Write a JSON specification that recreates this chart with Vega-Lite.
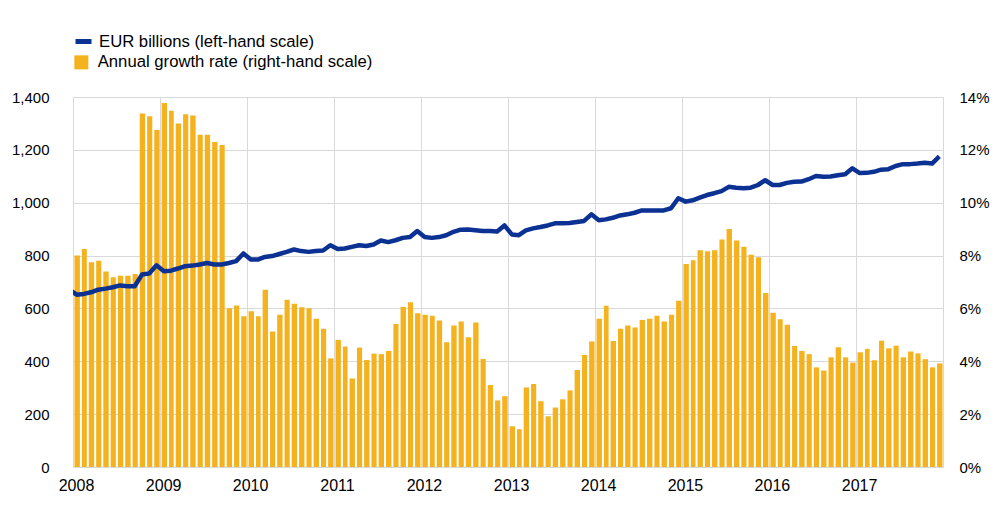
{
  "$schema": "https://vega.github.io/schema/vega-lite/v6.json",
  "width": 870,
  "height": 370,
  "autosize": {"type": "none"},
  "padding": {"left": 73, "top": 97, "right": 64, "bottom": 38},
  "background": "white",
  "config": {
    "view": {"stroke": null},
    "font": "Liberation Sans",
    "axis": {"labelFont": "Liberation Sans", "labelColor": "#000000", "labelFontSize": 15, "domain": false, "ticks": false, "tickSize": 0, "title": null, "gridColor": "#d9d9d9", "gridWidth": 1},
    "legend": {"labelFont": "Liberation Sans", "labelColor": "#000000", "labelFontSize": 16.7, "padding": 0, "title": null, "labelLimit": 0}
  },
  "data": {
    "values": [
      {"date": "2007-12-01", "eur": 671, "growth": null},
      {"date": "2008-01-01", "eur": 652, "growth": 8.0},
      {"date": "2008-02-01", "eur": 655, "growth": 8.25},
      {"date": "2008-03-01", "eur": 661, "growth": 7.75},
      {"date": "2008-04-01", "eur": 671, "growth": 7.8},
      {"date": "2008-05-01", "eur": 675, "growth": 7.4},
      {"date": "2008-06-01", "eur": 680, "growth": 7.18},
      {"date": "2008-07-01", "eur": 687, "growth": 7.24},
      {"date": "2008-08-01", "eur": 684, "growth": 7.24},
      {"date": "2008-09-01", "eur": 684, "growth": 7.3},
      {"date": "2008-10-01", "eur": 728, "growth": 13.38},
      {"date": "2008-11-01", "eur": 732, "growth": 13.27},
      {"date": "2008-12-01", "eur": 763, "growth": 12.75},
      {"date": "2009-01-01", "eur": 741, "growth": 13.77},
      {"date": "2009-02-01", "eur": 743, "growth": 13.48},
      {"date": "2009-03-01", "eur": 751, "growth": 13.0},
      {"date": "2009-04-01", "eur": 760, "growth": 13.35},
      {"date": "2009-05-01", "eur": 762, "growth": 13.3},
      {"date": "2009-06-01", "eur": 766, "growth": 12.57},
      {"date": "2009-07-01", "eur": 772, "growth": 12.57},
      {"date": "2009-08-01", "eur": 766, "growth": 12.3},
      {"date": "2009-09-01", "eur": 766, "growth": 12.18},
      {"date": "2009-10-01", "eur": 772, "growth": 6.01},
      {"date": "2009-11-01", "eur": 779, "growth": 6.11},
      {"date": "2009-12-01", "eur": 808, "growth": 5.7},
      {"date": "2010-01-01", "eur": 785, "growth": 5.89},
      {"date": "2010-02-01", "eur": 785, "growth": 5.7},
      {"date": "2010-03-01", "eur": 795, "growth": 6.71},
      {"date": "2010-04-01", "eur": 798, "growth": 5.13},
      {"date": "2010-05-01", "eur": 806, "growth": 5.76},
      {"date": "2010-06-01", "eur": 814, "growth": 6.33},
      {"date": "2010-07-01", "eur": 823, "growth": 6.18},
      {"date": "2010-08-01", "eur": 817, "growth": 6.04},
      {"date": "2010-09-01", "eur": 814, "growth": 6.01},
      {"date": "2010-10-01", "eur": 817, "growth": 5.61},
      {"date": "2010-11-01", "eur": 819, "growth": 5.23},
      {"date": "2010-12-01", "eur": 839, "growth": 4.11},
      {"date": "2011-01-01", "eur": 825, "growth": 4.81},
      {"date": "2011-02-01", "eur": 827, "growth": 4.56},
      {"date": "2011-03-01", "eur": 833, "growth": 3.35},
      {"date": "2011-04-01", "eur": 839, "growth": 4.52},
      {"date": "2011-05-01", "eur": 836, "growth": 4.05},
      {"date": "2011-06-01", "eur": 842, "growth": 4.29},
      {"date": "2011-07-01", "eur": 857, "growth": 4.27},
      {"date": "2011-08-01", "eur": 851, "growth": 4.39},
      {"date": "2011-09-01", "eur": 858, "growth": 5.41},
      {"date": "2011-10-01", "eur": 867, "growth": 6.05},
      {"date": "2011-11-01", "eur": 870, "growth": 6.23},
      {"date": "2011-12-01", "eur": 893, "growth": 5.82},
      {"date": "2012-01-01", "eur": 870, "growth": 5.76},
      {"date": "2012-02-01", "eur": 867, "growth": 5.72},
      {"date": "2012-03-01", "eur": 870, "growth": 5.54},
      {"date": "2012-04-01", "eur": 877, "growth": 4.72},
      {"date": "2012-05-01", "eur": 890, "growth": 5.35},
      {"date": "2012-06-01", "eur": 898, "growth": 5.51},
      {"date": "2012-07-01", "eur": 899, "growth": 4.91},
      {"date": "2012-08-01", "eur": 896, "growth": 5.47},
      {"date": "2012-09-01", "eur": 893, "growth": 4.09},
      {"date": "2012-10-01", "eur": 893, "growth": 3.1},
      {"date": "2012-11-01", "eur": 891, "growth": 2.52},
      {"date": "2012-12-01", "eur": 914, "growth": 2.68},
      {"date": "2013-01-01", "eur": 880, "growth": 1.54},
      {"date": "2013-02-01", "eur": 877, "growth": 1.43},
      {"date": "2013-03-01", "eur": 895, "growth": 3.01},
      {"date": "2013-04-01", "eur": 903, "growth": 3.14},
      {"date": "2013-05-01", "eur": 908, "growth": 2.49},
      {"date": "2013-06-01", "eur": 914, "growth": 1.92},
      {"date": "2013-07-01", "eur": 922, "growth": 2.25},
      {"date": "2013-08-01", "eur": 922, "growth": 2.56},
      {"date": "2013-09-01", "eur": 923, "growth": 2.9},
      {"date": "2013-10-01", "eur": 927, "growth": 3.67},
      {"date": "2013-11-01", "eur": 931, "growth": 4.24},
      {"date": "2013-12-01", "eur": 956, "growth": 4.75},
      {"date": "2014-01-01", "eur": 934, "growth": 5.61},
      {"date": "2014-02-01", "eur": 937, "growth": 6.1},
      {"date": "2014-03-01", "eur": 943, "growth": 4.77},
      {"date": "2014-04-01", "eur": 952, "growth": 5.23},
      {"date": "2014-05-01", "eur": 956, "growth": 5.35},
      {"date": "2014-06-01", "eur": 962, "growth": 5.28},
      {"date": "2014-07-01", "eur": 971, "growth": 5.56},
      {"date": "2014-08-01", "eur": 971, "growth": 5.61},
      {"date": "2014-09-01", "eur": 971, "growth": 5.72},
      {"date": "2014-10-01", "eur": 971, "growth": 5.51},
      {"date": "2014-11-01", "eur": 979, "growth": 5.76},
      {"date": "2014-12-01", "eur": 1017, "growth": 6.29},
      {"date": "2015-01-01", "eur": 1004, "growth": 7.68},
      {"date": "2015-02-01", "eur": 1009, "growth": 7.82},
      {"date": "2015-03-01", "eur": 1019, "growth": 8.2},
      {"date": "2015-04-01", "eur": 1029, "growth": 8.16},
      {"date": "2015-05-01", "eur": 1036, "growth": 8.2},
      {"date": "2015-06-01", "eur": 1044, "growth": 8.61},
      {"date": "2015-07-01", "eur": 1060, "growth": 9.01},
      {"date": "2015-08-01", "eur": 1057, "growth": 8.57},
      {"date": "2015-09-01", "eur": 1055, "growth": 8.33},
      {"date": "2015-10-01", "eur": 1057, "growth": 8.03},
      {"date": "2015-11-01", "eur": 1067, "growth": 7.94},
      {"date": "2015-12-01", "eur": 1085, "growth": 6.58},
      {"date": "2016-01-01", "eur": 1067, "growth": 5.84},
      {"date": "2016-02-01", "eur": 1067, "growth": 5.59},
      {"date": "2016-03-01", "eur": 1075, "growth": 5.38},
      {"date": "2016-04-01", "eur": 1079, "growth": 4.58},
      {"date": "2016-05-01", "eur": 1080, "growth": 4.39},
      {"date": "2016-06-01", "eur": 1089, "growth": 4.27},
      {"date": "2016-07-01", "eur": 1101, "growth": 3.77},
      {"date": "2016-08-01", "eur": 1098, "growth": 3.65},
      {"date": "2016-09-01", "eur": 1099, "growth": 4.15},
      {"date": "2016-10-01", "eur": 1104, "growth": 4.53},
      {"date": "2016-11-01", "eur": 1108, "growth": 4.15},
      {"date": "2016-12-01", "eur": 1130, "growth": 3.95},
      {"date": "2017-01-01", "eur": 1112, "growth": 4.34},
      {"date": "2017-02-01", "eur": 1113, "growth": 4.47},
      {"date": "2017-03-01", "eur": 1117, "growth": 4.04},
      {"date": "2017-04-01", "eur": 1125, "growth": 4.78},
      {"date": "2017-05-01", "eur": 1127, "growth": 4.49},
      {"date": "2017-06-01", "eur": 1139, "growth": 4.59},
      {"date": "2017-07-01", "eur": 1146, "growth": 4.15},
      {"date": "2017-08-01", "eur": 1146, "growth": 4.37},
      {"date": "2017-09-01", "eur": 1148, "growth": 4.3},
      {"date": "2017-10-01", "eur": 1151, "growth": 4.08},
      {"date": "2017-11-01", "eur": 1148, "growth": 3.77},
      {"date": "2017-12-01", "eur": 1175, "growth": 3.92}
    ]
  },
  "layer": [
    {
      "transform": [{"filter": "datum.growth != null"}],
      "mark": {"type": "bar", "binSpacing": 2, "clip": true},
      "encoding": {
        "x": {
          "field": "date", "timeUnit": "utcyearmonth", "type": "temporal",
          "scale": {"domain": [{"year": 2008, "month": 1, "date": 1, "utc": true}, {"year": 2018, "month": 1, "date": 1, "utc": true}]},
          "axis": {"format": "%Y", "tickCount": {"interval": "year", "step": 1}, "labelExpr": "datum.label == '2018' ? '' : datum.label", "grid": true, "labelPadding": 10, "labelFlush": false, "labelOverlap": false, "labelOffset": 3, "labelFontSize": 16}
        },
        "y": {
          "field": "growth", "type": "quantitative",
          "scale": {"domain": [0, 14]},
          "axis": {"orient": "right", "values": [0, 2, 4, 6, 8, 10, 12, 14], "labelExpr": "datum.value + '%'", "grid": false, "labelPadding": 16}
        },
        "fill": {
          "datum": "Annual growth rate (right-hand scale)",
          "type": "nominal",
          "scale": {"range": ["#F4B21F"]},
          "legend": {"orient": "none", "legendX": 0, "legendY": -43, "symbolType": "square", "symbolSize": 196, "symbolStrokeWidth": 0, "labelOffset": 8}
        }
      }
    },
    {
      "mark": {"type": "line", "strokeWidth": 4.5, "clip": true, "strokeJoin": "round"},
      "encoding": {
        "x": {"field": "date", "timeUnit": "utcyearmonth", "type": "temporal", "bandPosition": 0.5},
        "y": {
          "field": "eur", "type": "quantitative",
          "scale": {"domain": [0, 1400]},
          "axis": {"orient": "left", "values": [0, 200, 400, 600, 800, 1000, 1200, 1400], "format": ",d", "grid": true, "labelPadding": 24}
        },
        "stroke": {
          "datum": "EUR billions (left-hand scale)",
          "type": "nominal",
          "scale": {"range": ["#0B3192"]},
          "legend": {"orient": "none", "legendX": 0, "legendY": -66, "symbolType": "stroke", "symbolSize": 256, "symbolStrokeWidth": 5, "labelOffset": 5}
        }
      }
    }
  ],
  "resolve": {"scale": {"y": "independent"}}
}
